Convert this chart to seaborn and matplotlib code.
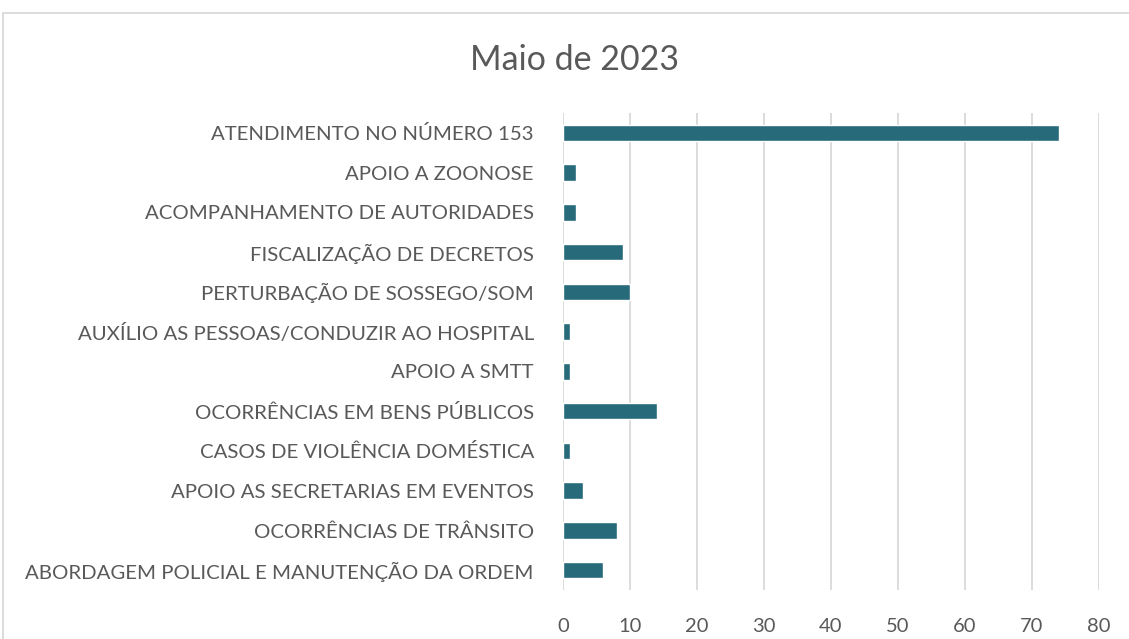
import matplotlib
matplotlib.use("Agg")
import matplotlib.pyplot as plt
import seaborn as sns
import pandas as pd
from matplotlib.patches import Rectangle

categories = [
    "ATENDIMENTO NO NÚMERO 153",
    "APOIO A ZOONOSE",
    "ACOMPANHAMENTO DE AUTORIDADES",
    "FISCALIZAÇÃO DE DECRETOS",
    "PERTURBAÇÃO DE SOSSEGO/SOM",
    "AUXÍLIO AS PESSOAS/CONDUZIR AO HOSPITAL",
    "APOIO A SMTT",
    "OCORRÊNCIAS EM BENS PÚBLICOS",
    "CASOS DE VIOLÊNCIA DOMÉSTICA",
    "APOIO AS SECRETARIAS EM EVENTOS",
    "OCORRÊNCIAS DE TRÂNSITO",
    "ABORDAGEM POLICIAL E MANUTENÇÃO DA ORDEM",
]
values = [74, 2, 2, 9, 10, 1, 1, 14, 1, 3, 8, 6]
xticks = [0, 10, 20, 30, 40, 50, 60, 70, 80]
title = "Maio de 2023"

sns.set_theme(style="white")
plt.rcParams["font.family"] = ["Lato", "DejaVu Sans"]

df = pd.DataFrame({"cat": categories, "val": values})

fig = plt.figure(figsize=(11.29, 6.39), dpi=100)
ax = fig.add_axes([563 / 1129, 1 - 590 / 639, (1099 - 563) / 1129, (590 - 113) / 639])

sns.barplot(data=df, y="cat", x="val", orient="h", color="#276B7B",
            saturation=1, width=0.42, ax=ax, zorder=3)

ax.set_xlim(0, 80)
ax.set_xticks(xticks)
ax.set_xticklabels([str(t) for t in xticks])
ax.grid(axis="x", color="#D9D9D9", linewidth=1.3, zorder=0)
ax.set_axisbelow(True)
for s in ax.spines.values():
    s.set_visible(False)
ax.set_xlabel("")
ax.set_ylabel("")
ax.tick_params(axis="y", length=0, pad=21, labelsize=14.7, labelcolor="#595959")
ax.tick_params(axis="x", length=0, pad=20, labelsize=14.5, labelcolor="#595959")

fig.text(0.5 * (471 + 678) / 1129, 1 - 60 / 639, title, ha="center", va="center",
         fontsize=24.5, color="#595959")

fig.patches.append(Rectangle((3 / 1129, -0.1), 1.2, 1 - 13 / 639 + 0.1,
                             transform=fig.transFigure, fill=False,
                             edgecolor="#D9D9D9", linewidth=1.3))

fig.savefig("out.png", dpi=100, facecolor="white")
